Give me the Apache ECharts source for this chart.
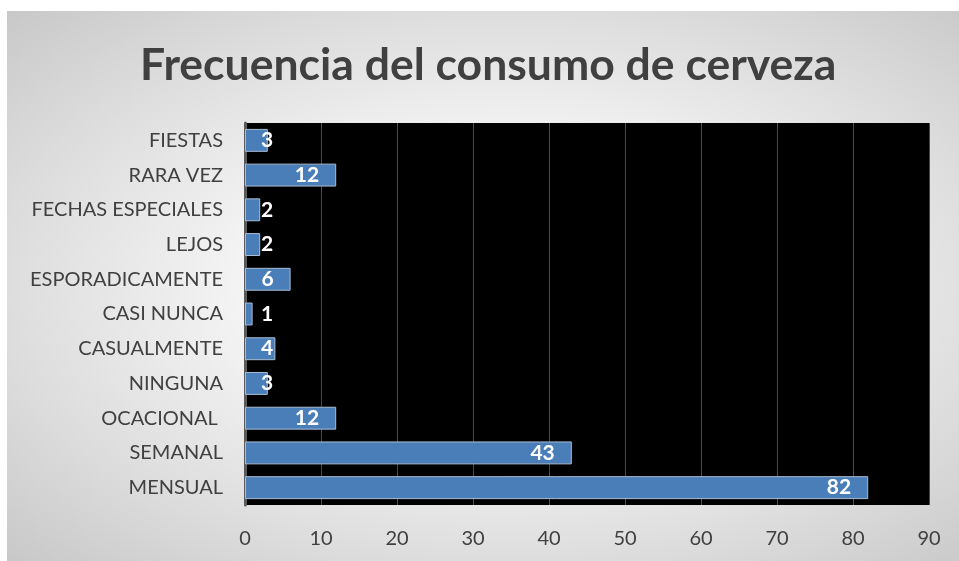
<!DOCTYPE html>
<html>
<head>
<meta charset="utf-8">
<script src="https://cdn.jsdelivr.net/npm/echarts@6/dist/echarts.min.js"></script>
<style>
  html, body { margin: 0; padding: 0; background: #fff; }
  #chart {
    position: absolute;
    left: 7px;
    top: 11px;
    width: 952px;
    height: 550px;
    background: radial-gradient(ellipse at 52% 50%, #ffffff 0%, #f5f5f5 35%, #dfdfdf 68%, #c8c8c8 100%);
  }
</style>
</head>
<body>
<div id="chart"></div>
<script>
// bottom to top, as the category axis draws them
const categories = ['MENSUAL', 'SEMANAL', 'OCACIONAL ', 'NINGUNA', 'CASUALMENTE', 'CASI NUNCA',
  'ESPORADICAMENTE', 'LEJOS', 'FECHAS ESPECIALES', 'RARA VEZ', 'FIESTAS']
const counts = [82, 43, 12, 3, 4, 1, 6, 2, 2, 12, 3]
const xTicks = [0, 10, 20, 30, 40, 50, 60, 70, 80, 90]

const chart = echarts.init(document.getElementById('chart'))

// short bars: label sits just right of the axis, like Excel does
const barData = counts.map(v => {
  if (v >= 6) return { value: v }
  return {
    value: v,
    label: { position: [16, '50%'], align: 'left', verticalAlign: 'middle' }
  }
})

const option = {
  animation: false,
  title: {
    text: 'Frecuencia del consumo de cerveza',
    left: 128,
    top: 27,
    textStyle: {
      fontFamily: 'Lato',
      fontWeight: 'bold',
      fontSize: 44.5,
      color: '#404040'
    }
  },
  grid: {
    left: 238,
    right: 30,
    top: 112,
    bottom: 56,
    show: true,
    backgroundColor: '#000',
    borderWidth: 0
  },
  xAxis: {
    type: 'value',
    min: xTicks[0],
    max: xTicks[xTicks.length - 1],
    interval: 10,
    axisLine: { show: false },
    axisTick: { show: false },
    splitLine: { lineStyle: { color: '#4a4a4a', width: 1 } },
    axisLabel: {
      margin: 24,
      fontFamily: 'Lato',
      fontSize: 20,
      color: '#404040'
    }
  },
  yAxis: {
    type: 'category',
    data: categories,
    axisLine: { lineStyle: { color: '#5a5a5a', width: 3 } },
    axisTick: { show: false },
    axisLabel: {
      margin: 22,
      fontFamily: 'Lato',
      fontSize: 20,
      color: '#404040'
    }
  },
  series: [{
    type: 'bar',
    data: barData,
    barWidth: '66%',
    itemStyle: {
      color: '#4a7eb8',
      borderColor: '#a9bdd4',
      borderWidth: 1
    },
    label: {
      show: true,
      position: 'insideRight',
      distance: 17,
      fontFamily: 'Lato',
      fontWeight: 'bold',
      fontSize: 21,
      color: '#fff'
    }
  }]
}

chart.setOption(option)
</script>
</body>
</html>
